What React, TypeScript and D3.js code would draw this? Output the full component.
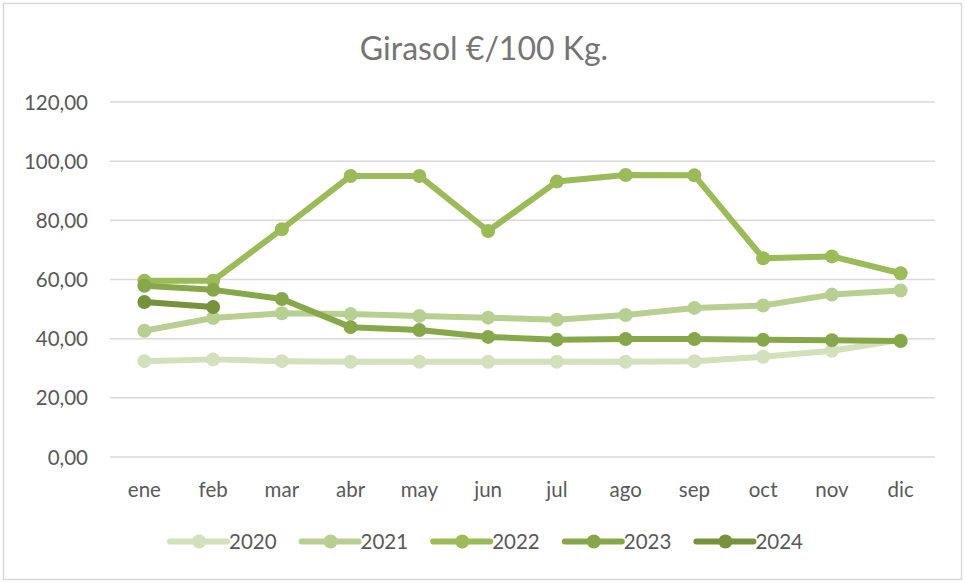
import React from "react";
import * as d3 from "d3";

const months = ["ene", "feb", "mar", "abr", "may", "jun", "jul", "ago", "sep", "oct", "nov", "dic"];
const yTicks = [0, 20, 40, 60, 80, 100, 120];

const s2020 = [32.4, 33.0, 32.4, 32.2, 32.2, 32.2, 32.2, 32.2, 32.4, 33.9, 35.9, 39.5];
const s2021 = [42.7, 47.0, 48.6, 48.3, 47.7, 47.1, 46.4, 48.0, 50.4, 51.2, 54.9, 56.3];
const s2022 = [59.6, 59.6, 77.0, 95.0, 95.0, 76.4, 93.1, 95.3, 95.2, 67.2, 67.8, 62.1];
const s2023 = [57.9, 56.5, 53.4, 43.9, 42.9, 40.6, 39.6, 39.9, 39.9, 39.6, 39.5, 39.2];
const s2024 = [52.4, 50.7];

const seriesNames = ["2020", "2021", "2022", "2023", "2024"];
const seriesData = [s2020, s2021, s2022, s2023, s2024];
const colors = ["#d3e0bc", "#b7d092", "#9bbb59", "#87a84a", "#76923c"];

const W = 965;
const H = 583;
const FONT = "Lato, 'Open Sans', sans-serif";

export default function App() {
  const x = d3.scaleBand<string>().domain(months).range([110, 935]);
  const y = d3.scaleLinear().domain([0, 120]).range([457, 102]);
  const cx = (i: number) => (x(months[i]) as number) + x.bandwidth() / 2;
  const line = d3
    .line<number>()
    .x((_, i) => cx(i))
    .y((d) => y(d));

  return (
    <svg
      width={W}
      height={H}
      style={{ position: "absolute", left: 0, top: 0, fontFamily: FONT }}
    >
      <rect x={0} y={0} width={W} height={H} fill="#ffffff" />
      <rect x={3.5} y={3.5} width={W - 7} height={H - 7} fill="none" stroke="#d9d9d9" strokeWidth={1.5} />
      <text x={484} y={60} textAnchor="middle" fontSize={32} fill="#757575">
        Girasol €/100 Kg.
      </text>
      {yTicks.map((t) => (
        <g key={t}>
          <line x1={110} x2={935} y1={y(t)} y2={y(t)} stroke="#d9d9d9" strokeWidth={1.5} />
          <text x={88} y={y(t) + 7.5} textAnchor="end" fontSize={20.5} fill="#595959">
            {t.toFixed(2).replace(".", ",")}
          </text>
        </g>
      ))}
      {months.map((m, i) => (
        <text key={m} x={cx(i)} y={497} textAnchor="middle" fontSize={20.5} fill="#595959">
          {m}
        </text>
      ))}
      {seriesData.map((data, si) => (
        <g key={seriesNames[si]}>
          <path d={line(data) || ""} fill="none" stroke={colors[si]} strokeWidth={6} strokeLinejoin="round" strokeLinecap="round" />
          {data.map((v, i) => (
            <circle key={i} cx={cx(i)} cy={y(v)} r={7} fill={colors[si]} />
          ))}
        </g>
      ))}
      {seriesNames.map((n, si) => {
        const lx = 170 + si * 131.6;
        return (
          <g key={n}>
            <line x1={lx} x2={lx + 57} y1={541.5} y2={541.5} stroke={colors[si]} strokeWidth={6} strokeLinecap="round" />
            <circle cx={lx + 29} cy={541.5} r={7} fill={colors[si]} />
            <text x={lx + 59} y={548.5} fontSize={20.5} fill="#595959">
              {n}
            </text>
          </g>
        );
      })}
    </svg>
  );
}
